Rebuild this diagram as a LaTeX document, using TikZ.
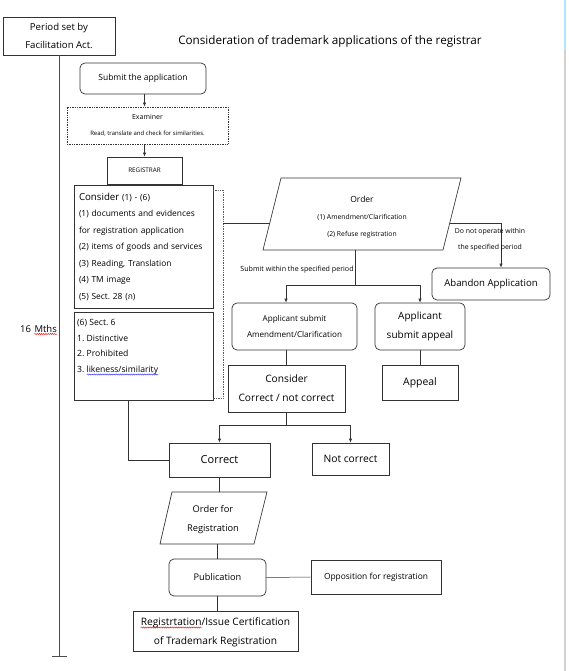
\documentclass[tikz,border=0pt]{standalone}
\usepackage{fontspec}
\setmainfont{Open Sans}
\newfontfamily\thaifont[Script=Thai]{Loma}
\usetikzlibrary{arrows.meta,decorations.pathmorphing}
\frenchspacing
\newcommand\fsz[2]{\fontsize{#1}{#2}\selectfont}
\tikzset{
  box/.style={draw=black!80, line width=0.7pt, align=center, inner sep=0pt},
  rbox/.style={box, rounded corners=5pt},
  conn/.style={draw=black!80, line width=0.7pt},
  arr/.style={conn, -{Latex[length=4pt,width=3.5pt]}},
  lbl/.style={align=center, inner sep=0pt},
  ln/.style={inner sep=0pt, anchor=base west},
  wave/.style={decorate, decoration={snake, amplitude=0.6pt, segment length=2.2pt}, line width=0.45pt}
}
\begin{document}
\begin{tikzpicture}[x=1pt,y=-1pt]
\useasboundingbox (0,0) rectangle (568,671);
% window border at right
\draw[line width=2pt, black!18] (565,50) -- (565,671);
\draw[line width=2pt, cyan!30] (565,0) -- (565,50);

% title
\node[lbl, font=\fsz{11.7}{13}] (title) at (330,41) {Consideration of trademark applications of the registrar};

% timeline
\node[box, minimum width=112pt, minimum height=38pt, font=\fsz{9.6}{18}] (period) at (59,36) {Period set by\\Facilitation Act.};
\coordinate (tlend) at (59,656);
\draw[conn, black!70, line width=1pt] (period.south) -- (tlend);
\draw[conn, black!70, line width=1pt] ([xshift=-7pt]tlend) -- ([xshift=8pt]tlend);
\node[inner sep=0pt, anchor=base east, font=\fsz{9.5}{10}] (mths) at (57,332) {Mths};
\node[inner sep=0pt, anchor=base east, font=\fsz{9.5}{10}] (m16) at ([xshift=-3pt]mths.base west) {16};
\draw[wave, red] ([yshift=-2pt]mths.base west) -- ([yshift=-2pt]mths.base east);

% top chain
\node[rbox, minimum width=126pt, minimum height=31pt, font=\fsz{8.5}{9}] (submit) at (143,78.5) {Submit the application};
\node[box, densely dotted, minimum width=161pt, minimum height=37pt, font=\fsz{6}{16}] (exam) at (147.5,125.5) {{\fsz{7}{16}Examiner}\\Read, translate and check for similarities.};
\node[box, minimum width=75pt, minimum height=27pt, font=\fsz{6.3}{8}] (reg) at (144.5,170.5) {REGISTRAR};
\draw[arr] (submit.south -| reg.north) -- (exam.north -| reg.north);
\draw[arr] (reg.north |- exam.south) -- (reg.north);

% consider (1)-(6)
\node[box, align=left, text width=129pt, inner xsep=5pt, minimum height=123pt, font=\fsz{8.4}{16.5}] (cons) at (143.5,246.5)
  {{\fsz{9.7}{16.5}Consider} (1) - (6)\\(1) documents and evidences\\for registration application\\(2) items of goods and services\\(3) Reading, Translation\\(4) TM image\\(5) Sect. 28 ({\thaifont ก})};
\node[box, minimum width=139pt, minimum height=88pt] (sect) at (143.5,356) {};
\node[ln, font=\fsz{8.6}{9}] (s1) at (77,325.5) {(6) Sect. 6};
\node[ln, font=\fsz{8.6}{9}] (s2) at (77,341.5) {1. Distinctive};
\node[ln, font=\fsz{8.6}{9}] (s3) at (77,356.5) {2. Prohibited};
\node[ln, font=\fsz{8.6}{9}] (s4) at (77,372.5) {3. likeness/similarity};
\node[ln, font=\fsz{8.6}{9}] (s4p) at (s4.base west) {\phantom{3.\ }};
\draw[wave, blue!80] ([yshift=-2pt]s4p.base east) -- ([yshift=-2pt]s4.base east);

% dotted bracket
\coordinate (b1) at (213,190);
\coordinate (b2) at (223,190);
\coordinate (b3) at (223,398);
\coordinate (b4) at (213,398);
\draw[conn, densely dotted, black!65, line width=0.9pt] (b1) -- (b2) -- (b3) -- (b4);

% order parallelogram
\coordinate (oTL) at (281,178);
\coordinate (oTR) at (461,178);
\coordinate (oBR) at (443,250);
\coordinate (oBL) at (263,250);
\draw[conn] (oTL) -- (oTR) -- (oBR) -- (oBL) -- cycle;
\node[lbl, font=\fsz{6.8}{17}] (order) at (362,217) {{\fsz{8.5}{17}Order}\\(1) Amendment/Clarification\\(2) Refuse registration};
\coordinate (oL) at (270,223);
\coordinate (bm) at (223,223);
\draw[conn] (bm) -- (oL);
\coordinate (oR) at (450,223);
\coordinate (abk) at (501,223);
\node[rbox, minimum width=118pt, minimum height=32pt, font=\fsz{9.6}{10}] (aband) at (491,284) {Abandon Application};
\draw[arr] (oR) -- (abk) -- (abk |- aband.north);
\node[lbl, font=\fsz{6.9}{16}] (dno) at (490,240) {Do not operate within\\the specified period};

\coordinate (oB) at (355,250);
\coordinate (split1) at (355,285);
\node[rbox, minimum width=125pt, minimum height=47pt, font=\fsz{8.1}{16}] (amend) at (294.5,326.5) {Applicant submit\\Amendment/Clarification};
\node[rbox, minimum width=90pt, minimum height=47pt, font=\fsz{10}{19}] (apsub) at (420,326.5) {Applicant\\submit appeal};
\draw[conn] (oB) -- (split1);
\draw[arr] (split1) -| ([xshift=-8.5pt]amend.north);
\draw[arr] (split1) -| (apsub.north);
\node[lbl, font=\fsz{7.1}{8}] (swp) at (297,270) {Submit within the specified period};

\node[box, minimum width=117pt, minimum height=47pt, font=\fsz{10.2}{19}] (cons2) at (286.5,388.5) {Consider\\Correct / not correct};
\node[box, minimum width=76pt, minimum height=35pt, font=\fsz{10.4}{11}] (appeal) at (420,382.5) {Appeal};
\draw[conn] ([xshift=-8.5pt]amend.south) -- ([xshift=-8.5pt]amend.south |- cons2.north);
\draw[conn] (apsub.south) -- (appeal.north);

% correct / not correct
\node[box, minimum width=101pt, minimum height=34pt, font=\fsz{11}{12}] (correct) at (219.5,460) {Correct};
\node[box, minimum width=77pt, minimum height=32pt, font=\fsz{10.3}{11}] (notc) at (350.5,459) {Not correct};
\draw[conn] (cons2.south) -- ++(0,13) coordinate (split2);
\draw[arr] (split2) -| (correct.north);
\draw[arr] (split2) -| (notc.north);
\draw[conn] ([xshift=-15.5pt]sect.south) |- (correct.west);

% order for registration
\coordinate (rTL) at (172,492);
\coordinate (rTR) at (267,492);
\coordinate (rBR) at (254,544);
\coordinate (rBL) at (160,544);
\draw[conn] (rTL) -- (rTR) -- (rBR) -- (rBL) -- cycle;
\node[lbl, font=\fsz{9.3}{19}] (ordreg) at (213,519.5) {Order for\\Registration};
\coordinate (rT) at (218,492);
\coordinate (rB) at (217,544);
\draw[conn] (correct.south) -- (correct.south |- rT);

\node[rbox, minimum width=97pt, minimum height=37pt, font=\fsz{9.2}{10}] (pub) at (217.5,577.5) {Publication};
\node[box, minimum width=130pt, minimum height=34pt, font=\fsz{8.4}{9}] (opp) at (376,577) {Opposition for registration};
\node[box, minimum width=165pt, minimum height=40pt] (regis) at (215.5,631) {};
\node[inner sep=0pt, anchor=base, font=\fsz{10.2}{11}] (rg1) at (215.5,625.5) {Registrtation/Issue Certification};
\node[inner sep=0pt, anchor=base, font=\fsz{10.2}{11}] (rg2) at (215.5,644.5) {of Trademark Registration};
\node[ln, font=\fsz{10.2}{11}] (rg1p) at (rg1.base west) {\phantom{Registrtation}};
\draw[wave, red] ([yshift=-2pt]rg1p.base west) -- ([yshift=-2pt]rg1p.base east);
\draw[conn] (rB) -- (rB |- pub.north);
\draw[conn, line width=0.5pt] (pub.east) -- (opp.west);
\draw[conn] (pub.south) -- (pub.south |- regis.north);
\end{tikzpicture}
\end{document}
